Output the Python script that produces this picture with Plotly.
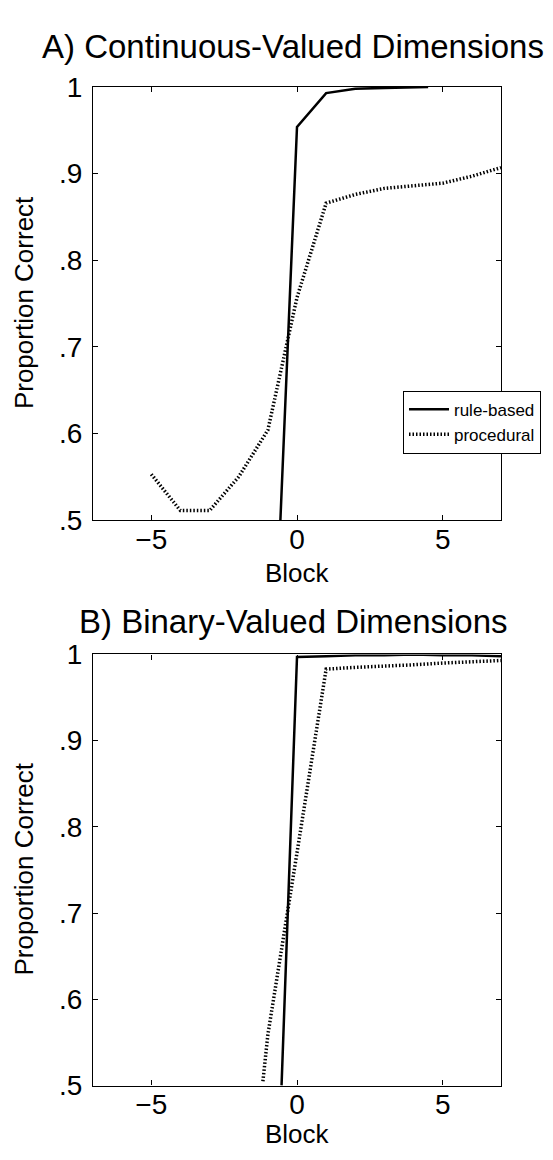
import plotly.graph_objects as go

# ---- data ----
blocks_a_rule = [-0.57, 0, 1, 2, 3, 4, 4.5]
prop_a_rule = [0.5, 0.954, 0.993, 0.998, 0.999, 1.0, 1.0]
blocks_a_proc = [-5, -4, -3, -2, -1, 0, 1, 2, 3, 4, 5, 6, 7]
prop_a_proc = [0.553, 0.511, 0.511, 0.55, 0.604, 0.757, 0.866, 0.876, 0.883, 0.886, 0.889, 0.897, 0.907]

blocks_b_rule = [-0.53, 0, 1, 2, 3, 4, 5, 6, 7]
prop_b_rule = [0.5, 0.997, 0.998, 0.999, 0.999, 1.0, 0.999, 0.999, 0.998]
blocks_b_proc = [-1.17, -1, 0, 1, 2, 3, 4, 5, 6, 7]
prop_b_proc = [0.505, 0.559, 0.77, 0.983, 0.985, 0.986, 0.988, 0.990, 0.991, 0.993]

series_names = ["rule-based", "procedural"]
panel_titles = ["A) Continuous-Valued Dimensions", "B) Binary-Valued Dimensions"]
x_label = "Block"
y_label = "Proportion Correct"
y_tickvals = [0.5, 0.6, 0.7, 0.8, 0.9, 1.0]
y_ticktext = [".5", ".6", ".7", ".8", ".9", "1"]
x_tickvals = [-5, 0, 5]
x_ticktext = ["\u22125", "0", "5"]

W, H = 553, 1160
FONT = "Liberation Sans, Arial, Helvetica, sans-serif"

def px_x(x):
    return x / W

def px_y(y):
    return 1 - y / H

fig = go.Figure()

rule_line = dict(color="black", width=2.5)
proc_line = dict(color="black", width=3.5, dash="1.5px,2px")

fig.add_trace(go.Scatter(x=blocks_a_rule, y=prop_a_rule, mode="lines", line=rule_line,
                         name=series_names[0], xaxis="x", yaxis="y", showlegend=True))
fig.add_trace(go.Scatter(x=blocks_a_proc, y=prop_a_proc, mode="lines", line=proc_line,
                         name=series_names[1], xaxis="x", yaxis="y", showlegend=True))
fig.add_trace(go.Scatter(x=blocks_b_rule, y=prop_b_rule, mode="lines", line=rule_line,
                         name=series_names[0], xaxis="x2", yaxis="y2", showlegend=False))
fig.add_trace(go.Scatter(x=blocks_b_proc, y=prop_b_proc, mode="lines", line=proc_line,
                         name=series_names[1], xaxis="x2", yaxis="y2", showlegend=False))

common_x = dict(range=[-7, 7], tickvals=x_tickvals, ticktext=x_ticktext, ticks="inside",
                ticklen=5, tickwidth=1, tickcolor="black", showline=True, linecolor="black",
                linewidth=1.3, mirror="ticks", showgrid=False, zeroline=False,
                tickfont=dict(size=28, color="black", family=FONT), ticklabelstandoff=-6)
common_y = dict(range=[0.5, 1.0], tickvals=y_tickvals, ticktext=y_ticktext, ticks="inside",
                ticklen=5, tickwidth=1, tickcolor="black", showline=True, linecolor="black",
                linewidth=1.3, mirror="ticks", showgrid=False, zeroline=False,
                tickfont=dict(size=28, color="black", family=FONT), ticklabelstandoff=4)

dom_x = [px_x(93), px_x(501)]
fig.update_layout(
    width=W, height=H,
    margin=dict(l=0, r=0, t=0, b=0),
    paper_bgcolor="white", plot_bgcolor="white",
    font=dict(family=FONT, color="black"),
    xaxis=dict(domain=dom_x, anchor="y", **common_x),
    yaxis=dict(domain=[px_y(519), px_y(74)], anchor="x", **common_y),
    xaxis2=dict(domain=dom_x, anchor="y2", **common_x),
    yaxis2=dict(domain=[px_y(1100), px_y(657)], anchor="x2", **common_y),
    legend=dict(x=px_x(403), y=px_y(386), xanchor="left", yanchor="top",
                bgcolor="white", bordercolor="black", borderwidth=1,
                font=dict(size=17, color="black", family=FONT),
                tracegroupgap=0, itemwidth=40),
    showlegend=True,
)

annotations = [
    dict(text=panel_titles[0], x=px_x(293), y=px_y(32), font=dict(size=33)),
    dict(text=panel_titles[1], x=px_x(293), y=px_y(623), font=dict(size=33)),
    dict(text=x_label, x=px_x(297), y=px_y(573), font=dict(size=26)),
    dict(text=x_label, x=px_x(297), y=px_y(1150), font=dict(size=26)),
    dict(text=y_label, x=px_x(24), y=px_y(296), font=dict(size=26), textangle=-90),
    dict(text=y_label, x=px_x(24), y=px_y(878), font=dict(size=26), textangle=-90),
]
for a in annotations:
    a.update(xref="paper", yref="paper", xanchor="center", yanchor="middle",
             showarrow=False)
    a["font"].update(family=FONT, color="black")
fig.update_layout(annotations=annotations)

fig.write_html("out.html")
